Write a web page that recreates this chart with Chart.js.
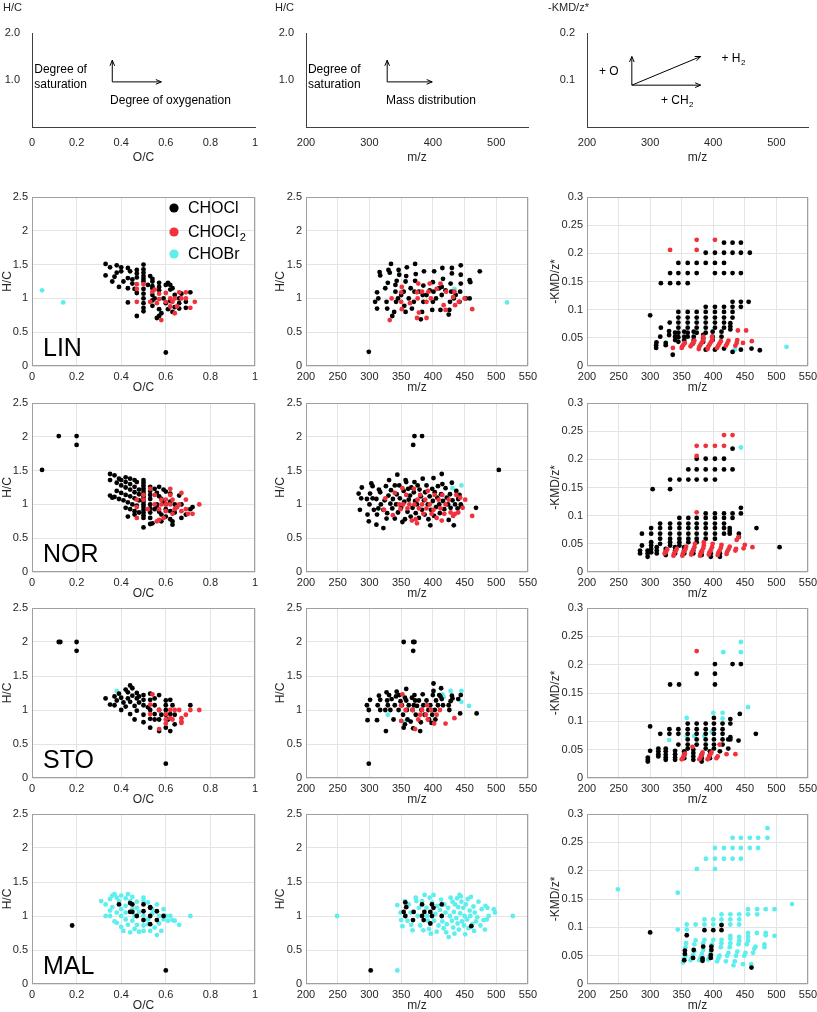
<!DOCTYPE html>
<html><head><meta charset="utf-8">
<script src="https://cdn.jsdelivr.net/npm/chart.js@4.4.0/dist/chart.umd.min.js"></script>
<style>
html,body{margin:0;padding:0;background:#fff;}
#wrap{position:relative;width:817px;height:1012px;overflow:hidden;background:#fff;}
canvas{position:absolute;}
</style></head><body><div id="wrap"></div>
<script>
// ---------------- DATA ----------------
const seriesNames = ["CHOCl", "CHOCl2", "CHOBr"];
const sampleTags = ["LIN", "NOR", "STO", "MAL"];
const ocAxis = [0, 1, 0.2];      // min, max, step
const hcAxis = [0, 2.5, 0.5];
const mzAxis = [200, 550, 50];
const kmdAxis = [0, 0.3, 0.05];

// LIN
const linVkK = [[0.33,1.51],[0.35,1.46],[0.38,1.49],[0.40,1.46],[0.43,1.45],[0.44,1.40],[0.40,1.40],[0.38,1.38],[0.47,1.42],[0.47,1.37],[0.50,1.50],[0.50,1.43],[0.50,1.38],[0.50,1.33],[0.50,1.29],[0.50,1.25],[0.50,1.14],[0.50,1.07],[0.50,1.00],[0.50,0.93],[0.50,0.86],[0.50,0.81],[0.33,1.34],[0.36,1.25],[0.37,1.32],[0.39,1.17],[0.41,1.25],[0.43,1.30],[0.43,1.15],[0.45,1.28],[0.45,1.22],[0.47,1.31],[0.47,1.08],[0.43,0.94],[0.47,0.74],[0.46,1.14],[0.53,1.33],[0.54,1.25],[0.54,1.29],[0.54,1.18],[0.54,1.15],[0.54,1.05],[0.54,0.89],[0.54,0.97],[0.57,1.23],[0.57,1.17],[0.57,1.12],[0.57,0.84],[0.56,0.71],[0.57,0.74],[0.58,0.78],[0.60,1.20],[0.61,1.23],[0.62,1.20],[0.62,1.13],[0.60,0.93],[0.61,0.84],[0.63,0.80],[0.63,1.15],[0.64,1.05],[0.64,0.87],[0.66,0.93],[0.66,0.85],[0.66,1.00],[0.69,0.86],[0.69,0.95],[0.71,1.09],[0.60,0.20],[0.52,1.20],[0.55,1.00],[0.59,1.00],[0.62,0.96],[0.67,1.07]];
const linVkR = [[0.47,1.21],[0.47,1.14],[0.47,0.95],[0.50,1.21],[0.53,0.95],[0.54,1.10],[0.57,1.07],[0.57,0.99],[0.58,0.68],[0.60,1.08],[0.60,0.95],[0.62,1.00],[0.62,0.88],[0.63,0.95],[0.64,0.78],[0.64,1.00],[0.66,1.09],[0.67,1.00],[0.69,1.09],[0.69,1.00],[0.71,0.86],[0.73,0.95],[0.55,1.13],[0.56,0.93],[0.65,0.88]];
const linVkC = [[0.045,1.12],[0.14,0.94]];
const linMzK = [[299,0.21],[309,0.95],[312,0.85],[312,1.09],[314,1.00],[316,1.39],[317,1.34],[327,0.95],[328,0.85],[325,1.15],[329,1.23],[330,1.42],[332,1.38],[334,1.51],[336,0.74],[339,0.80],[342,0.95],[341,1.10],[341,1.20],[343,1.26],[346,1.42],[347,1.35],[355,0.89],[357,0.80],[354,1.10],[357,1.25],[358,1.33],[359,1.46],[367,0.85],[370,0.95],[371,1.10],[372,1.26],[373,1.36],[372,1.51],[383,0.80],[381,0.69],[385,0.95],[384,1.05],[385,1.19],[386,1.40],[399,0.83],[400,0.95],[401,1.10],[402,1.40],[400,1.24],[412,0.83],[414,1.17],[415,1.45],[416,1.29],[414,1.05],[425,0.76],[426,0.83],[427,0.95],[428,1.22],[430,1.45],[430,1.37],[429,1.10],[442,0.95],[443,1.10],[444,1.22],[444,1.35],[444,1.49],[458,1.00],[458,1.27],[459,1.24],[474,1.40],[345,1.00],[350,1.05],[362,1.00],[365,1.15],[378,1.10],[390,1.05],[395,1.12],[405,1.00],[410,1.15],[420,1.12],[433,1.00],[436,1.05],[452,1.00]];
const linMzR = [[332,0.68],[335,1.00],[350,0.95],[351,0.84],[350,1.09],[364,0.93],[375,1.09],[377,1.22],[376,1.00],[375,0.71],[378,0.79],[390,0.71],[390,0.95],[395,1.22],[393,1.10],[397,1.00],[406,1.14],[412,1.22],[417,0.90],[420,0.83],[421,1.10],[432,1.02],[434,1.10],[435,0.90],[441,0.95],[450,1.00],[462,0.84],[351,1.17],[383,1.10]];
const linMzC = [[434,1.14],[517,0.94]];
const linKmK = [[417,0.219],[430.5,0.219],[443.7,0.219],[388,0.201],[402.6,0.201],[417,0.201],[430.5,0.201],[443.7,0.201],[457.9,0.201],[344.7,0.183],[359.5,0.183],[373.7,0.183],[388,0.183],[402.6,0.183],[417,0.183],[331.6,0.165],[344.7,0.165],[359.5,0.165],[373.7,0.165],[402.6,0.165],[417,0.165],[430.5,0.165],[443.7,0.165],[317,0.147],[331.6,0.147],[344.7,0.147],[359.5,0.147],[300,0.090],[309.5,0.032],[309.5,0.037],[310,0.042],[316,0.052],[317,0.068],[324.7,0.037],[324.7,0.041],[330,0.055],[330,0.062],[331,0.077],[335.8,0.020],[339.5,0.046],[339.5,0.052],[339.5,0.059],[344.7,0.043],[344.7,0.051],[344.7,0.059],[344.7,0.068],[344.7,0.077],[344.7,0.086],[344.7,0.096],[354,0.046],[354,0.052],[354,0.061],[359.5,0.052],[359.5,0.059],[359.5,0.068],[359.5,0.077],[359.5,0.086],[359.5,0.096],[368,0.040],[369,0.046],[369,0.052],[369,0.061],[373.7,0.059],[373.7,0.068],[373.7,0.077],[373.7,0.086],[373.7,0.096],[384,0.043],[384,0.049],[384,0.055],[388,0.029],[388,0.059],[388,0.068],[388,0.077],[388,0.086],[388,0.096],[388,0.105],[399,0.046],[399,0.052],[399,0.061],[402.6,0.029],[402.6,0.068],[402.6,0.077],[402.6,0.086],[402.6,0.096],[402.6,0.105],[413,0.052],[413,0.061],[417,0.031],[417,0.068],[417,0.077],[417,0.086],[417,0.096],[417,0.105],[427,0.065],[427,0.070],[427,0.076],[430.5,0.025],[430.5,0.086],[430.5,0.096],[430.5,0.105],[430.5,0.114],[443.7,0.029],[443.7,0.105],[443.7,0.114],[456,0.114],[460.5,0.031],[473.7,0.028]];
const linKmR = [[331.6,0.206],[373.7,0.224],[373.7,0.206],[402.6,0.224],[336,0.032],[350,0.032],[351,0.035],[353,0.038],[355,0.041],[364,0.035],[366,0.038],[368,0.041],[370,0.045],[377,0.030],[378,0.034],[380,0.038],[382,0.042],[384,0.046],[384,0.052],[391,0.030],[392,0.034],[394,0.038],[396,0.042],[398,0.046],[398,0.052],[406,0.032],[408,0.036],[410,0.040],[412,0.044],[420,0.036],[422,0.040],[424,0.045],[435,0.036],[437,0.041],[438,0.046],[439,0.063],[447,0.041],[452,0.063],[461,0.044]];
const linKmC = [[434,0.029],[516,0.034]];

// NOR
const norVkK = [[0.12,2.01],[0.20,2.01],[0.20,1.88],[0.045,1.51],[0.50,1.36],[0.50,1.32],[0.50,1.28],[0.50,1.24],[0.50,1.20],[0.50,1.16],[0.50,1.12],[0.50,1.08],[0.50,1.04],[0.50,1.00],[0.50,0.96],[0.50,0.92],[0.50,0.88],[0.50,0.84],[0.50,0.80],[0.50,0.66],[0.35,1.45],[0.37,1.43],[0.39,1.38],[0.40,1.36],[0.42,1.33],[0.44,1.30],[0.46,1.26],[0.48,1.22],[0.35,1.36],[0.38,1.32],[0.40,1.28],[0.42,1.25],[0.44,1.22],[0.46,1.18],[0.48,1.15],[0.35,1.13],[0.36,1.10],[0.38,1.20],[0.40,1.17],[0.42,1.14],[0.44,1.12],[0.46,1.09],[0.48,1.06],[0.37,1.11],[0.39,1.08],[0.41,1.06],[0.43,1.03],[0.45,1.00],[0.47,0.98],[0.42,0.95],[0.44,0.93],[0.46,0.90],[0.43,0.82],[0.46,0.85],[0.48,0.88],[0.42,1.40],[0.44,1.38],[0.46,1.36],[0.47,1.33],[0.53,1.26],[0.53,1.20],[0.53,1.14],[0.53,1.08],[0.53,1.00],[0.53,0.94],[0.53,0.88],[0.53,0.80],[0.53,0.71],[0.54,0.72],[0.55,1.23],[0.56,1.17],[0.57,1.12],[0.58,1.08],[0.59,1.04],[0.57,1.26],[0.59,1.22],[0.60,1.19],[0.62,1.16],[0.55,0.93],[0.57,0.89],[0.58,0.85],[0.60,0.82],[0.62,0.78],[0.63,0.75],[0.56,0.96],[0.58,0.75],[0.56,1.00],[0.60,0.93],[0.62,0.90],[0.63,0.70],[0.64,0.88],[0.66,1.13],[0.67,1.00],[0.67,0.80],[0.69,0.85],[0.71,0.93],[0.72,0.96],[0.60,1.00],[0.62,1.04],[0.64,1.00],[0.65,0.96]];
const norVkR = [[0.47,1.07],[0.47,0.96],[0.47,0.80],[0.50,1.07],[0.50,1.14],[0.52,0.93],[0.53,1.23],[0.55,1.14],[0.55,1.00],[0.57,0.93],[0.57,0.77],[0.58,1.07],[0.58,1.00],[0.60,1.00],[0.60,1.07],[0.60,0.90],[0.62,1.23],[0.62,1.00],[0.62,1.14],[0.63,1.07],[0.63,0.86],[0.64,0.93],[0.65,0.96],[0.66,1.00],[0.67,1.17],[0.67,0.90],[0.69,1.07],[0.69,0.93],[0.70,0.86],[0.72,0.86],[0.75,1.00],[0.56,0.75],[0.59,0.80]];
const norMzK = [[283,1.16],[285,0.92],[287,1.09],[288,1.25],[296,1.08],[297,0.85],[299,0.75],[300,1.00],[301,1.16],[303,1.31],[305,1.27],[305,1.09],[307,0.92],[311,0.70],[311,1.08],[312,0.85],[314,0.94],[315,1.22],[317,1.18],[318,1.00],[322,0.65],[322,0.92],[324,1.06],[326,1.27],[327,0.79],[328,0.87],[330,1.13],[331,1.36],[333,1.01],[334,1.21],[336,0.94],[337,1.08],[340,1.28],[340,0.79],[342,1.00],[343,1.15],[344,1.44],[345,0.88],[347,1.28],[348,1.09],[350,0.95],[352,0.74],[354,1.20],[355,1.04],[356,0.78],[357,1.36],[358,1.33],[360,0.89],[361,1.23],[362,1.07],[364,1.13],[365,0.82],[366,1.25],[368,0.95],[370,1.18],[371,1.33],[372,1.05],[373,0.87],[375,1.00],[376,1.28],[378,0.80],[379,1.22],[381,1.12],[383,0.92],[384,1.38],[386,1.06],[387,0.85],[388,1.18],[390,1.28],[392,1.00],[393,0.78],[395,1.12],[396,0.69],[397,0.92],[399,1.23],[400,1.05],[401,1.39],[402,0.83],[403,1.18],[405,0.96],[407,1.10],[408,1.27],[410,1.00],[411,0.87],[413,1.15],[414,1.45],[415,1.30],[416,1.05],[418,0.93],[420,1.24],[422,1.10],[424,1.00],[425,0.77],[427,1.15],[428,0.95],[430,1.32],[431,1.06],[433,0.69],[435,1.00],[437,1.20],[439,0.94],[440,1.08],[442,1.14],[444,1.00],[445,0.97],[468,0.95],[504,1.51],[371,2.01],[383,2.01],[369,1.88]];
const norMzR = [[325,1.09],[323,0.92],[337,0.84],[340,1.17],[347,1.00],[349,0.93],[352,1.24],[353,1.00],[358,1.14],[360,0.94],[363,1.00],[367,0.76],[370,1.23],[371,1.00],[373,0.78],[375,0.72],[376,1.07],[378,0.94],[380,1.14],[383,1.00],[385,0.86],[388,1.07],[390,0.94],[392,1.20],[395,1.00],[398,0.86],[401,0.92],[403,1.14],[406,0.80],[409,1.07],[412,0.94],[414,0.76],[415,1.14],[418,0.86],[420,1.00],[425,1.07],[428,0.88],[432,0.83],[435,0.86],[437,1.14],[440,0.88],[443,1.10],[447,0.95],[451,1.07],[462,0.83]];
const norMzC = [[431,1.24],[445,1.28]];
const norKmK = [[304,0.147],[331.6,0.147],[331.6,0.164],[346.3,0.164],[360.5,0.164],[373.7,0.164],[388,0.164],[402.6,0.164],[360.5,0.182],[373.7,0.182],[388,0.182],[402.6,0.182],[417,0.182],[430.5,0.182],[373.7,0.201],[388,0.201],[402.6,0.201],[417,0.201],[430.5,0.219],[284,0.033],[284,0.038],[287,0.047],[287,0.068],[296,0.027],[296,0.033],[296,0.038],[301.6,0.035],[301.6,0.041],[301.6,0.047],[301.6,0.053],[301.6,0.068],[301.6,0.078],[310.5,0.033],[310.5,0.038],[310.5,0.044],[315.8,0.050],[315.8,0.059],[315.8,0.068],[315.8,0.078],[315.8,0.086],[324.7,0.030],[324.7,0.036],[324.7,0.041],[331.6,0.047],[331.6,0.053],[331.6,0.059],[331.6,0.068],[331.6,0.078],[331.6,0.086],[339.5,0.033],[339.5,0.038],[339.5,0.044],[346.3,0.047],[346.3,0.053],[346.3,0.059],[346.3,0.068],[346.3,0.078],[346.3,0.086],[346.3,0.096],[354,0.033],[354,0.038],[354,0.044],[360.5,0.053],[360.5,0.059],[360.5,0.068],[360.5,0.078],[360.5,0.086],[360.5,0.096],[368.4,0.033],[368.4,0.038],[373.7,0.053],[373.7,0.059],[373.7,0.068],[373.7,0.078],[373.7,0.086],[373.7,0.096],[381.6,0.030],[381.6,0.036],[388,0.059],[388,0.068],[388,0.078],[388,0.086],[388,0.096],[388,0.104],[396,0.027],[396,0.033],[402.6,0.059],[402.6,0.068],[402.6,0.078],[402.6,0.086],[402.6,0.096],[402.6,0.104],[410.5,0.027],[410.5,0.033],[417,0.068],[417,0.078],[417,0.086],[417,0.096],[417,0.104],[426,0.068],[426,0.073],[426,0.078],[430.5,0.096],[430.5,0.104],[440.5,0.062],[440.5,0.068],[443.7,0.104],[443.7,0.114],[468.4,0.078],[505,0.044]];
const norKmR = [[373.7,0.206],[373.7,0.224],[388,0.224],[402.6,0.224],[417,0.224],[417,0.243],[430.5,0.243],[373.7,0.106],[323,0.033],[325,0.036],[327,0.040],[337,0.029],[338,0.033],[340,0.037],[342,0.041],[351,0.029],[352,0.033],[354,0.037],[356,0.041],[357,0.045],[365,0.031],[366,0.035],[368,0.039],[370,0.044],[371,0.050],[379,0.029],[380,0.033],[382,0.037],[384,0.042],[385,0.047],[385,0.053],[393,0.031],[394,0.035],[396,0.039],[398,0.044],[399,0.050],[407,0.030],[408,0.034],[410,0.038],[412,0.043],[413,0.048],[421,0.032],[422,0.036],[424,0.040],[426,0.045],[435,0.038],[436,0.041],[437,0.057],[440,0.062],[448,0.042],[450,0.048],[462,0.044]];
const norKmC = [[443.7,0.221]];

// STO
const stoVkK = [[0.33,1.17],[0.35,1.08],[0.37,1.07],[0.37,1.20],[0.38,1.14],[0.39,1.24],[0.40,1.18],[0.40,1.00],[0.41,1.11],[0.42,1.30],[0.42,1.05],[0.43,1.26],[0.43,1.17],[0.44,1.36],[0.44,1.12],[0.44,0.94],[0.45,1.32],[0.45,1.21],[0.46,1.06],[0.46,0.86],[0.47,1.25],[0.47,1.17],[0.47,0.99],[0.48,1.20],[0.48,1.11],[0.50,1.22],[0.50,1.07],[0.50,0.93],[0.50,0.82],[0.50,1.15],[0.53,1.24],[0.53,1.15],[0.53,1.00],[0.53,0.87],[0.53,0.74],[0.55,1.17],[0.55,1.07],[0.55,0.94],[0.55,0.86],[0.57,1.22],[0.57,1.00],[0.57,0.69],[0.57,0.86],[0.60,1.14],[0.60,1.07],[0.60,1.00],[0.60,0.93],[0.60,0.74],[0.61,0.86],[0.62,1.15],[0.62,0.69],[0.62,0.94],[0.63,1.07],[0.64,0.93],[0.64,0.79],[0.71,1.07],[0.12,2.00],[0.127,2.00],[0.20,2.00],[0.20,1.87],[0.60,0.21],[0.58,0.93],[0.52,1.04]];
const stoVkR = [[0.54,1.23],[0.53,1.08],[0.53,0.94],[0.57,1.00],[0.57,0.72],[0.60,0.94],[0.60,0.80],[0.60,0.86],[0.62,1.00],[0.63,0.86],[0.64,1.00],[0.66,1.00],[0.67,0.88],[0.67,0.81],[0.67,0.83],[0.69,0.93],[0.71,1.00],[0.75,1.00],[0.62,0.88]];
const stoVkC = [[0.38,1.28]];
const stoMzK = [[296,1.07],[297,0.85],[299,1.00],[301,1.15],[312,0.85],[313,1.07],[315,1.21],[317,1.15],[317,1.00],[325,1.00],[326,0.69],[327,1.26],[328,1.14],[329,1.07],[331,1.22],[333,1.00],[335,1.16],[338,0.86],[340,1.07],[342,1.20],[343,1.27],[346,1.00],[347,1.22],[349,1.13],[351,1.07],[353,0.93],[354,0.74],[356,0.79],[356,1.18],[358,1.31],[358,1.14],[359,1.00],[360,0.86],[362,1.07],[365,0.83],[367,1.18],[368,1.00],[369,0.73],[370,1.07],[371,1.22],[372,1.14],[373,0.93],[375,1.06],[378,1.14],[380,0.69],[381,0.82],[382,1.00],[384,1.23],[385,1.07],[387,0.93],[390,1.14],[393,1.00],[394,0.86],[396,1.07],[398,0.81],[399,0.93],[400,1.22],[401,1.28],[401,1.39],[403,1.00],[404,0.86],[405,1.14],[408,1.07],[410,1.22],[412,1.20],[413,1.32],[414,1.16],[416,1.07],[425,1.07],[426,1.00],[428,1.13],[430,1.21],[431,1.17],[440,1.16],[443,0.95],[444,1.22],[469,0.95],[354,2.00],[369,2.00],[371,2.00],[369,1.87],[299,0.21]];
const stoMzR = [[352,1.23],[350,1.07],[350,0.84],[357,1.00],[368,1.00],[372,0.72],[377,0.86],[380,0.93],[383,1.00],[389,0.93],[391,1.07],[392,0.86],[397,1.00],[402,0.80],[406,0.93],[411,1.00],[420,0.80],[434,0.88]];
const stoMzC = [[329,0.93],[355,0.83],[415,1.23],[417,1.19],[428,1.28],[445,1.28],[445,1.12],[457,1.06],[398,1.00]];
const stoKmK = [[331.6,0.165],[345.8,0.165],[373.7,0.184],[402.6,0.201],[402.6,0.184],[402.6,0.165],[430.5,0.201],[443.7,0.201],[296.3,0.029],[296.3,0.032],[296.3,0.036],[300,0.091],[300,0.048],[313,0.038],[313,0.042],[313,0.047],[313,0.052],[316,0.078],[324.7,0.032],[324.7,0.036],[324.7,0.041],[324.7,0.047],[324.7,0.052],[330.5,0.086],[330.5,0.078],[339.5,0.032],[339.5,0.036],[339.5,0.042],[339.5,0.048],[344.7,0.086],[344.7,0.078],[344.7,0.059],[354,0.035],[354,0.041],[354,0.047],[359.5,0.096],[359.5,0.086],[359.5,0.078],[359.5,0.068],[359.5,0.059],[359.5,0.052],[368.4,0.032],[368.4,0.038],[368.4,0.044],[368.4,0.050],[373.7,0.096],[373.7,0.086],[373.7,0.078],[373.7,0.068],[373.7,0.059],[381.6,0.029],[381.6,0.035],[381.6,0.041],[388,0.096],[388,0.086],[388,0.078],[388,0.068],[388,0.059],[388,0.052],[394.7,0.035],[394.7,0.041],[394.7,0.047],[401,0.106],[401,0.096],[401,0.086],[401,0.078],[401,0.068],[401,0.059],[401,0.052],[410.5,0.047],[414.7,0.096],[414.7,0.086],[414.7,0.078],[414.7,0.068],[414.7,0.059],[423.7,0.052],[423.7,0.068],[427,0.104],[427,0.096],[427,0.072],[427,0.068],[440,0.066],[442,0.113],[467.4,0.078]];
const stoKmR = [[373.7,0.224],[350,0.033],[352,0.036],[354,0.040],[355,0.043],[367,0.055],[378,0.033],[380,0.037],[382,0.042],[383,0.045],[391,0.033],[393,0.037],[395,0.041],[397,0.045],[405,0.035],[407,0.038],[410,0.059],[421,0.042],[435,0.042]];
const stoKmC = [[415.8,0.222],[443.7,0.222],[443.7,0.240],[455,0.125],[330,0.067],[357.9,0.106],[370,0.074],[385.8,0.074],[397.4,0.081],[400,0.115],[414.7,0.115],[414.7,0.105],[357.9,0.074]];

// MAL
const malVkK = [[0.39,1.17],[0.44,1.19],[0.44,1.06],[0.45,1.17],[0.45,1.06],[0.47,1.00],[0.50,1.17],[0.50,1.07],[0.50,0.94],[0.53,1.13],[0.53,1.12],[0.53,1.00],[0.53,0.88],[0.56,1.07],[0.56,0.94],[0.59,1.00],[0.18,0.86],[0.60,0.20]];
const malVkC = [[0.31,1.22],[0.33,1.17],[0.33,1.00],[0.35,1.25],[0.35,1.08],[0.35,1.00],[0.36,1.30],[0.36,1.13],[0.37,1.32],[0.37,0.92],[0.38,1.27],[0.38,1.05],[0.38,0.90],[0.39,1.22],[0.40,1.30],[0.40,1.10],[0.40,1.00],[0.40,0.84],[0.41,0.78],[0.42,1.26],[0.42,1.15],[0.42,0.95],[0.43,1.32],[0.43,0.87],[0.44,1.22],[0.44,0.76],[0.45,1.28],[0.45,1.10],[0.45,0.93],[0.46,0.81],[0.47,1.21],[0.47,1.12],[0.47,0.87],[0.48,0.77],[0.48,1.06],[0.50,1.27],[0.50,1.22],[0.50,1.00],[0.50,0.86],[0.50,0.78],[0.52,1.20],[0.52,0.95],[0.53,0.78],[0.54,1.10],[0.54,1.04],[0.55,0.83],[0.56,1.17],[0.56,0.72],[0.57,1.00],[0.57,0.89],[0.58,0.78],[0.59,1.10],[0.59,0.95],[0.60,1.00],[0.61,0.93],[0.62,1.00],[0.63,0.94],[0.64,0.93],[0.66,0.87],[0.71,1.00],[0.52,0.88],[0.46,1.00],[0.42,1.05]];
const malMzK = [[302,0.20],[354,1.06],[356.6,1.20],[358,1.13],[356.6,1.00],[368.7,0.94],[369.7,1.06],[383,1.17],[383,1.00],[385.5,0.94],[386.6,1.06],[396,1.06],[396,0.89],[398.6,1.17],[398.6,1.00],[401,1.12],[414,1.17],[414,1.00],[460.6,0.85]];
const malMzC = [[344,1.16],[349,1.05],[350,0.94],[352,0.85],[356,1.22],[360,0.93],[362,1.17],[365,1.05],[366,0.87],[368,0.79],[373,1.27],[374,1.22],[376,1.00],[378,1.12],[380,0.86],[383,1.22],[385,0.79],[387,1.31],[390,1.12],[391,1.00],[392,0.93],[394,0.81],[395,1.27],[397,0.74],[399,1.20],[401,1.31],[402,0.93],[404,1.03],[406,0.77],[407,1.15],[409,0.86],[411,1.09],[413,1.24],[415,0.92],[417,0.82],[418,1.17],[420,1.05],[421,0.76],[422,0.88],[424,1.12],[425,0.69],[427,1.00],[428,1.27],[430,0.93],[431,1.21],[432,0.83],[433,1.06],[434,0.74],[435,1.17],[437,0.97],[438,1.26],[439,0.89],[440,1.13],[441,0.80],[442,1.31],[443,1.04],[444,1.29],[445,1.21],[446,0.92],[448,1.12],[449,0.86],[450,1.00],[451,0.73],[452,1.17],[454,0.95],[455,1.25],[456,0.82],[458,1.08],[459,1.00],[460,1.28],[462,0.88],[464,1.14],[465,0.78],[466,1.05],[468,0.92],[470,0.98],[472,1.21],[475,0.86],[477,1.10],[480,0.94],[482,0.80],[483,1.15],[485,0.95],[486,1.12],[488,1.00],[496,1.10],[498,1.05],[249,1.00],[344,0.20],[526,1.00]];
const malKmK = [[300,0.091],[358,0.086],[355,0.059],[355,0.053],[354,0.042],[369,0.060],[368,0.046],[384,0.066],[383,0.045],[383,0.041],[386,0.095],[397,0.066],[397,0.060],[396,0.051],[396,0.046],[400,0.095],[413,0.104],[413,0.095],[460.5,0.029]];
const malKmC = [[485.8,0.275],[430.5,0.258],[443.7,0.258],[457.9,0.258],[471,0.258],[485.8,0.258],[402.6,0.240],[416.8,0.240],[430.5,0.240],[443.7,0.240],[457.9,0.240],[471,0.240],[388.4,0.221],[402.6,0.221],[416.8,0.221],[430.5,0.221],[443.7,0.221],[374,0.203],[402.6,0.203],[249,0.167],[343.7,0.161],[524.7,0.141],[343.7,0.096],[455,0.132],[469.5,0.132],[483,0.132],[497,0.132],[413,0.123],[427,0.123],[441,0.123],[455,0.123],[469.5,0.123],[386,0.114],[400,0.114],[413,0.114],[427,0.114],[441,0.114],[358,0.105],[372,0.105],[386,0.105],[400,0.105],[413,0.105],[427,0.105],[441,0.105],[469,0.090],[483,0.090],[483,0.086],[497,0.085],[352,0.038],[354,0.045],[356,0.050],[356,0.065],[357,0.072],[358,0.096],[364,0.042],[366,0.047],[368,0.052],[370,0.058],[370,0.070],[372,0.077],[378,0.042],[380,0.047],[382,0.053],[384,0.060],[384,0.072],[386,0.078],[392,0.043],[394,0.048],[396,0.055],[398,0.070],[400,0.078],[406,0.040],[408,0.045],[410,0.050],[412,0.065],[413,0.072],[413,0.078],[420,0.040],[422,0.050],[424,0.055],[426,0.065],[427,0.072],[427,0.080],[427,0.085],[432,0.033],[434,0.040],[436,0.050],[438,0.057],[440,0.070],[441,0.076],[441,0.083],[447,0.035],[449,0.050],[451,0.055],[453,0.070],[455,0.076],[455,0.083],[455,0.090],[460,0.035],[463,0.055],[465,0.062],[467,0.066],[481,0.065],[481,0.070]];

// schematic (top row) annotations, in data units of each panel
const schemeVk = [
  {t:'text', x:0.01, y:1.23, s:'Degree of'},
  {t:'text', x:0.01, y:0.91, s:'saturation'},
  {t:'arrow', x1:0.36, y1:0.96, x2:0.36, y2:1.42},
  {t:'arrow', x1:0.36, y1:0.96, x2:0.58, y2:0.96},
  {t:'text', x:0.35, y:0.55, s:'Degree of oxygenation'}
];
const schemeMz = [
  {t:'text', x:203, y:1.23, s:'Degree of'},
  {t:'text', x:203, y:0.91, s:'saturation'},
  {t:'arrow', x1:328, y1:0.96, x2:328, y2:1.42},
  {t:'arrow', x1:328, y1:0.96, x2:399, y2:0.96},
  {t:'text', x:326, y:0.55, s:'Mass distribution'}
];
const schemeKmd = [
  {t:'text', x:219, y:0.117, s:'+ O'},
  {t:'arrow', x1:271, y1:0.089, x2:271, y2:0.150},
  {t:'arrow', x1:271, y1:0.089, x2:380, y2:0.150},
  {t:'text', x:413, y:0.146, s:'+ H', sub:'2'},
  {t:'arrow', x1:271, y1:0.089, x2:380, y2:0.089},
  {t:'text', x:317, y:0.055, s:'+ CH', sub:'2'}
];

// ---------------- RENDERING ----------------
const FONT = '"Liberation Sans", Arial, Helvetica, sans-serif';
Chart.defaults.font.family = FONT;
Chart.defaults.font.size = 11;
Chart.defaults.color = '#262626';
const COLORS = {K:'#000000', R:'#f0323c', C:'#5eeeee'};
const GRID = '#e4e4e4', BOX = '#a0a0a0', AXIS = '#404040';
const wrap = document.getElementById('wrap');
const numFmt = v => String(Math.round(v*1000)/1000);

const COLS = [
  {left:32, w:223, L:32, R:12},
  {left:306, w:222, L:33, R:12},
  {left:587, w:221, L:39, R:9}
];
const ROWS = [{top:197,h:169},{top:403,h:169},{top:608,h:170},{top:814,h:170}];

function addCanvas(x,y,w,h){
  const c=document.createElement('canvas');
  c.width=w;c.height=h;
  c.style.left=x+'px';c.style.top=y+'px';c.style.width=w+'px';c.style.height=h+'px';
  wrap.appendChild(c);return c;
}
const pts = a => a.map(p=>({x:p[0],y:p[1]}));

const decor = {
  id:'decor',
  beforeDatasetsDraw(chart,args,o){
    const {ctx, chartArea:a} = chart;
    if (o.box){
      ctx.save();ctx.strokeStyle=BOX;ctx.lineWidth=1;
      ctx.strokeRect(Math.round(a.left)+0.5,Math.round(a.top)+0.5,Math.round(a.right-a.left)-1,Math.round(a.bottom-a.top)-1);
      ctx.restore();
    }
    if (o.tag){
      ctx.save();ctx.font='25px '+FONT;ctx.fillStyle='#000';ctx.textBaseline='alphabetic';ctx.textAlign='left';
      ctx.fillText(o.tag,a.left+11,a.bottom-10);ctx.restore();
    }
  },
  afterDraw(chart,args,o){
    const {ctx, chartArea:a} = chart;
    if (o.legend){
      ctx.save();
      const cols=[COLORS.K,COLORS.R,COLORS.C];
      const ys=[11,35,57];
      seriesNames.forEach((n,i)=>{
        ctx.fillStyle=cols[i];ctx.beginPath();ctx.arc(a.left+142,a.top+ys[i],4.6,0,Math.PI*2);ctx.fill();
        ctx.fillStyle='#000';ctx.font='16px '+FONT;ctx.textBaseline='middle';ctx.textAlign='left';
        let label=n, sub='';
        if (n.endsWith('2')){label=n.slice(0,-1);sub='2';}
        ctx.fillText(label,a.left+156,a.top+ys[i]+1);
        if (sub){const w=ctx.measureText(label).width;ctx.font='11px '+FONT;ctx.fillText(sub,a.left+156+w+1,a.top+ys[i]+6);}
      });
      ctx.restore();
    }
    if (o.ytitle){
      ctx.save();ctx.font='11px '+FONT;ctx.fillStyle='#262626';ctx.textBaseline='middle';ctx.textAlign='left';
      ctx.fillText(o.ytitle,a.left+o.ytdx,8);ctx.restore();
    }
    if (o.scheme){
      const sx=chart.scales.x, sy=chart.scales.y;
      ctx.save();ctx.strokeStyle='#000';ctx.fillStyle='#000';ctx.lineWidth=1;
      o.scheme.forEach(it=>{
        if (it.t==='text'){
          ctx.font='12px '+FONT;ctx.textBaseline='middle';ctx.textAlign='left';
          const px=sx.getPixelForValue(it.x), py=sy.getPixelForValue(it.y);
          ctx.fillText(it.s,px,py);
          if (it.sub){const w=ctx.measureText(it.s).width;ctx.font='8px '+FONT;ctx.fillText(it.sub,px+w+0.5,py+4);}
        } else {
          const x1=sx.getPixelForValue(it.x1), y1=sy.getPixelForValue(it.y1);
          const x2=sx.getPixelForValue(it.x2), y2=sy.getPixelForValue(it.y2);
          ctx.beginPath();ctx.moveTo(x1,y1);ctx.lineTo(x2,y2);ctx.stroke();
          const ang=Math.atan2(y2-y1,x2-x1), hl=6;
          ctx.beginPath();ctx.moveTo(x2,y2);
          ctx.lineTo(x2-hl*Math.cos(ang-0.4),y2-hl*Math.sin(ang-0.4));
          ctx.moveTo(x2,y2);
          ctx.lineTo(x2-hl*Math.cos(ang+0.4),y2-hl*Math.sin(ang+0.4));
          ctx.stroke();
        }
      });
      ctx.restore();
    }
  }
};
Chart.register(decor);

function axisBase(range, title, extra){
  return Object.assign({
    type:'linear', min:range[0], max:range[1],
    ticks:{stepSize:range[2], padding:4, color:'#262626', font:{size:11}, callback:numFmt},
    grid:{color:GRID, drawTicks:false, lineWidth:1},
    border:{display:false},
    title:{display:true, text:title, padding:0, color:'#262626', font:{size:12}}
  }, extra||{});
}

function scatterPanel(ci, ri, series, xr, xt, yr, yt, deco){
  const col=COLS[ci], row=ROWS[ri];
  const T=8, B=29;
  const cv=addCanvas(col.left-col.L,row.top-T,col.L+col.w+col.R,T+row.h+B);
  const ds=[];
  // dataset 0 is drawn last (on top): CHOCl2, then CHOCl, then CHOBr underneath
  if (series.R) ds.push({data:pts(series.R),backgroundColor:COLORS.R});
  if (series.K) ds.push({data:pts(series.K),backgroundColor:COLORS.K});
  if (series.C) ds.push({data:pts(series.C),backgroundColor:COLORS.C});
  ds.forEach(d=>{d.borderWidth=0;d.pointRadius=2.4;d.pointHoverRadius=2.4;});
  new Chart(cv,{type:'scatter',data:{datasets:ds},options:{
    responsive:false, animation:false, events:[],
    layout:{padding:{left:0,top:T,right:col.R,bottom:0}},
    plugins:{legend:{display:false},tooltip:{enabled:false},decor:Object.assign({box:true},deco||{})},
    scales:{
      x:axisBase(xr,xt,{afterFit(s){s.height=B;s.paddingLeft=0;s.paddingRight=0;}}),
      y:axisBase(yr,yt,{afterFit(s){s.width=col.L;s.paddingTop=0;s.paddingBottom=0;}})
    }
  }});
}

function schemePanel(ci, xr, xt, yr, yfmt, ytitle, ytdx, scheme){
  const col=COLS[ci];
  const T=33, H=94, B=38;
  const cv=addCanvas(col.left-col.L,0,col.L+col.w+col.R,T+H+B);
  new Chart(cv,{type:'scatter',data:{datasets:[{data:[]}]},options:{
    responsive:false, animation:false, events:[],
    layout:{padding:{left:0,top:T,right:col.R,bottom:0}},
    plugins:{legend:{display:false},tooltip:{enabled:false},decor:{ytitle:ytitle,ytdx:ytdx,scheme:scheme}},
    scales:{
      x:{type:'linear',min:xr[0],max:xr[1],
         ticks:{stepSize:xr[2],includeBounds:false,padding:1,color:'#262626',font:{size:11},callback:numFmt},
         grid:{display:false},border:{display:true,color:AXIS,width:1},
         title:{display:true,text:xt,padding:0,color:'#262626',font:{size:12}},
         afterFit(s){s.height=B;s.paddingLeft=0;s.paddingRight=0;}},
      y:{type:'linear',min:yr[0],max:yr[1],
         ticks:{stepSize:yr[2],padding:4,color:'#262626',font:{size:11},callback:yfmt},
         grid:{display:false},border:{display:true,color:AXIS,width:1},
         afterFit(s){s.width=col.L;s.paddingTop=0;s.paddingBottom=0;}}
    }
  }});
}

// top schematic row
const hcFmt = v => v===0 ? '' : v.toFixed(1);
schemePanel(0,[0,1,0.2],'O/C',[0,2,1],hcFmt,'H/C',-29,schemeVk);
schemePanel(1,[200,550,100],'m/z',[0,2,1],hcFmt,'H/C',-31,schemeMz);
schemePanel(2,[200,550,100],'m/z',[0,0.2,0.1],hcFmt,'-KMD/z*',-39,schemeKmd);

// data rows
const kmdTitle='-KMD/z*';
const rowsData = [
  [{K:linVkK,R:linVkR,C:linVkC},{K:linMzK,R:linMzR,C:linMzC},{K:linKmK,R:linKmR,C:linKmC}],
  [{K:norVkK,R:norVkR},{K:norMzK,R:norMzR,C:norMzC},{K:norKmK,R:norKmR,C:norKmC}],
  [{K:stoVkK,R:stoVkR,C:stoVkC},{K:stoMzK,R:stoMzR,C:stoMzC},{K:stoKmK,R:stoKmR,C:stoKmC}],
  [{K:malVkK,C:malVkC},{K:malMzK,C:malMzC},{K:malKmK,C:malKmC}]
];
rowsData.forEach((r,ri)=>{
  scatterPanel(0,ri,r[0],ocAxis,'O/C',hcAxis,'H/C',{tag:sampleTags[ri],legend:ri===0});
  scatterPanel(1,ri,r[1],mzAxis,'m/z',hcAxis,'H/C');
  scatterPanel(2,ri,r[2],mzAxis,'m/z',kmdAxis,kmdTitle);
});
</script></body></html>
